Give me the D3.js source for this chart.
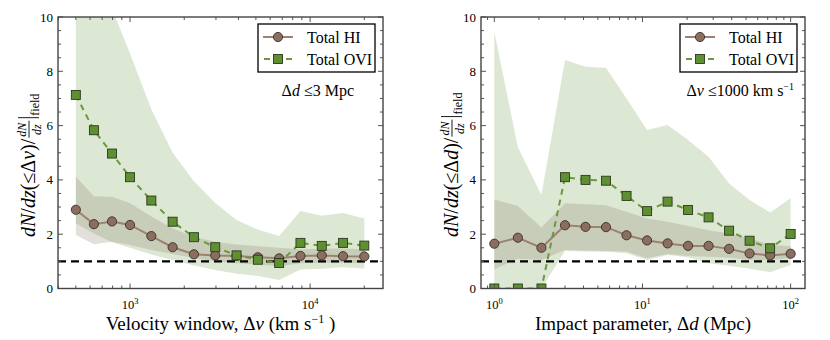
<!DOCTYPE html>
<html>
<head>
<meta charset="utf-8">
<script src="https://cdn.jsdelivr.net/npm/d3@7"></script>
<style>
  body { margin: 0; background: #fff; }
  svg { display: block; }
</style>
</head>
<body>
<svg id="chart" width="830" height="340" font-family="'Liberation Serif', 'Times New Roman', 'DejaVu Serif', serif"></svg>
<script>
// ---------- data ----------
var velX = [500, 630, 794, 1000, 1313, 1724, 2264, 2973, 3904, 5126, 6731, 8839, 11606, 15240, 20000];
var velHI = [2.9, 2.37, 2.47, 2.34, 1.93, 1.52, 1.26, 1.22, 1.2, 1.15, 1.11, 1.2, 1.22, 1.19, 1.18];
var velHIlo = [1.97, 1.63, 1.72, 1.6, 1.42, 1.27, 1.12, 1.0, 0.93, 0.88, 0.82, 0.93, 0.95, 0.95, 0.93];
var velHIhi = [4.12, 3.4, 3.38, 3.14, 2.65, 2.22, 1.9, 1.72, 1.62, 1.56, 1.5, 1.45, 1.46, 1.47, 1.45];
var velOVI = [7.13, 5.83, 4.97, 4.1, 3.24, 2.46, 1.89, 1.52, 1.22, 1.06, 0.94, 1.68, 1.57, 1.68, 1.58];
var velOVIlo = [2.4, 2.03, 1.7, 1.5, 1.25, 1.05, 0.85, 0.68, 0.54, 0.46, 0.31, 0.7, 0.73, 0.78, 0.74];
var velOVIhi = [16, 12.5, 10.3, 8.66, 6.6, 5.0, 3.95, 3.15, 2.52, 2.17, 1.93, 2.85, 2.68, 2.78, 2.58];

var impX = [1, 1.442, 2.08, 3, 4.126, 5.675, 7.806, 10.74, 14.77, 20.31, 27.93, 38.42, 52.84, 72.68, 100];
var impHI = [1.65, 1.87, 1.5, 2.33, 2.27, 2.26, 1.96, 1.77, 1.66, 1.57, 1.57, 1.46, 1.29, 1.22, 1.28];
var impHIlo = [0.71, 1.1, 1.05, 1.42, 1.4, 1.38, 1.36, 1.11, 1.27, 1.2, 1.17, 1.13, 1.05, 1.05, 1.11];
var impHIhi = [3.28, 3.04, 2.25, 3.14, 3.1, 3.07, 2.83, 2.58, 2.46, 2.3, 2.15, 2.03, 1.85, 1.6, 1.57];
var impOVI = [0, 0, 0, 4.1, 4.0, 3.97, 3.41, 2.85, 3.2, 2.89, 2.62, 2.13, 1.76, 1.48, 2.01];
var impOVIlo = [0, 0, 0, 1.38, 1.36, 1.35, 1.3, 1.05, 1.23, 1.15, 0.93, 0.84, 0.73, 0.6, 0.87];
var impOVIhi = [9.46, 5.2, 3.44, 8.42, 8.17, 8.13, 7.0, 5.84, 6.02, 5.47, 4.85, 3.87, 3.26, 2.8, 3.32];

var yTicks = [0, 2, 4, 6, 8, 10];
var seriesNames = ['Total HI', 'Total OVI'];

var HI_LINE = '#9c8272', HI_FILL = '#8a6e5f', HI_BAND = '#7f6e5c';
var OVI_LINE = '#6b9a3a', OVI_FILL = '#5e8f30', OVI_BAND = '#64963a';

var svg = d3.select('#chart');

function panel(opt) {
  var x = d3.scaleLog().domain(opt.xdom).range([opt.left, opt.right]);
  var y = d3.scaleLinear().domain([0, 10]).range([288.5, 17]);
  var g = svg.append('g');
  var clipId = 'clip' + opt.id;
  svg.append('clipPath').attr('id', clipId).append('rect')
    .attr('x', opt.left).attr('y', 17).attr('width', opt.right - opt.left).attr('height', 271.5);
  var plot = g.append('g').attr('clip-path', 'url(#' + clipId + ')');

  function band(lo, hi, col) {
    var a = d3.area().x(function (d, i) { return x(opt.xs[i]); }).y0(function (d, i) { return y(lo[i]); }).y1(function (d, i) { return y(hi[i]); });
    plot.append('path').attr('d', a(opt.xs)).attr('fill', col).attr('fill-opacity', 0.22).attr('stroke', 'none');
  }
  band(opt.oviLo, opt.oviHi, OVI_BAND);
  band(opt.hiLo, opt.hiHi, HI_BAND);

  plot.append('line').attr('x1', opt.left).attr('x2', opt.right).attr('y1', y(1)).attr('y2', y(1))
    .attr('stroke', '#000').attr('stroke-width', 2.4).attr('stroke-dasharray', '8,5');

  var line = d3.line().x(function (d, i) { return x(opt.xs[i]); }).y(function (d) { return y(d); });
  plot.append('path').attr('d', line(opt.hi)).attr('fill', 'none').attr('stroke', HI_LINE).attr('stroke-width', 2);
  plot.selectAll('circle.hi').data(opt.hi).join('circle').attr('class', 'hi')
    .attr('cx', function (d, i) { return x(opt.xs[i]); }).attr('cy', function (d) { return y(d); }).attr('r', 4.6)
    .attr('fill', HI_FILL).attr('stroke', '#3a2e28').attr('stroke-width', 0.9);
  plot.append('path').attr('d', line(opt.ovi)).attr('fill', 'none').attr('stroke', OVI_LINE).attr('stroke-width', 2).attr('stroke-dasharray', '6,5');
  plot.selectAll('rect.ovi').data(opt.ovi).join('rect').attr('class', 'ovi')
    .attr('x', function (d, i) { return x(opt.xs[i]) - 4.5; }).attr('y', function (d) { return y(d) - 4.5; })
    .attr('width', 9).attr('height', 9)
    .attr('fill', OVI_FILL).attr('stroke', '#2a3a1e').attr('stroke-width', 0.9);

  // frame and ticks (inward, mirrored)
  var ax = g.append('g').attr('stroke', '#555').attr('stroke-width', 1);
  var lo = Math.ceil(Math.log10(opt.xdom[0])), hiE = Math.floor(Math.log10(opt.xdom[1]));
  var xt = [];
  for (var e = lo - 1; e <= hiE; e++) for (var m = 1; m < 10; m++) {
    var v = m * Math.pow(10, e);
    if (v >= opt.xdom[0] && v <= opt.xdom[1]) xt.push({ v: v, major: m === 1 });
  }
  xt.forEach(function (t) {
    var px = x(t.v), L = t.major ? 5 : 3;
    ax.append('line').attr('x1', px).attr('x2', px).attr('y1', 288.5).attr('y2', 288.5 - L);
    ax.append('line').attr('x1', px).attr('x2', px).attr('y1', 17).attr('y2', 17 + L);
  });
  d3.range(0, 10.01, 0.5).forEach(function (v) {
    var py = y(v), L = (v % 2 === 0) ? 5 : 3;
    ax.append('line').attr('x1', opt.left).attr('x2', opt.left + L).attr('y1', py).attr('y2', py);
    ax.append('line').attr('x1', opt.right).attr('x2', opt.right - L).attr('y1', py).attr('y2', py);
  });
  g.append('rect').attr('x', opt.left).attr('y', 17).attr('width', opt.right - opt.left).attr('height', 271.5)
    .attr('fill', 'none').attr('stroke', '#444').attr('stroke-width', 1.4);

  yTicks.forEach(function (v) {
    g.append('text').attr('x', opt.left - 5).attr('y', y(v)).attr('dy', '0.35em').attr('text-anchor', 'end')
      .attr('font-size', 13).text(v);
  });
  xt.filter(function (t) { return t.major; }).forEach(function (t) {
    var tx = g.append('text').attr('x', x(t.v)).attr('y', 309).attr('text-anchor', 'middle').attr('font-size', 12.5);
    tx.append('tspan').text('10');
    tx.append('tspan').attr('dy', -5).attr('font-size', 8.5).text(Math.round(Math.log10(t.v)));
  });

  // x label
  var xl = g.append('text').attr('x', (opt.left + opt.right) / 2 + opt.xlShift).attr('y', 330).attr('text-anchor', 'middle').attr('font-size', 19);
  opt.xlabel(xl);

  // y label
  var yl = g.append('g').attr('transform', 'translate(' + (opt.left - 23) + ',237) rotate(-90)');
  var main = yl.append('text').attr('x', 0).attr('y', 0).attr('font-size', 20);
  main.append('tspan').attr('font-style', 'italic').text('dN');
  main.append('tspan').text('/');
  main.append('tspan').attr('font-style', 'italic').text('dz');
  main.append('tspan').text('(\u2264\u0394');
  main.append('tspan').attr('font-style', 'italic').text(opt.yvar);
  main.append('tspan').text(')/');
  var w = main.node().getComputedTextLength();
  var fx = w + 1;
  yl.append('text').attr('x', fx + 8).attr('y', -9).attr('text-anchor', 'middle').attr('font-size', 12).attr('font-style', 'italic').text('dN');
  yl.append('text').attr('x', fx + 8).attr('y', 6).attr('text-anchor', 'middle').attr('font-size', 12).attr('font-style', 'italic').text('dz');
  yl.append('line').attr('x1', fx).attr('x2', fx + 17).attr('y1', -6).attr('y2', -6).attr('stroke', '#000').attr('stroke-width', 0.9);
  yl.append('line').attr('x1', fx + 20).attr('x2', fx + 20).attr('y1', -17).attr('y2', 4).attr('stroke', '#000').attr('stroke-width', 0.9);
  yl.append('text').attr('x', fx + 22).attr('y', 4).attr('font-size', 12).text('field');

  // legend
  var lg = g.append('g').attr('transform', 'translate(' + (opt.right - 125) + ',24)');
  lg.append('rect').attr('x', 0).attr('y', 0).attr('width', 117).attr('height', 48).attr('fill', '#fff').attr('stroke', '#000').attr('stroke-width', 1.3);
  lg.append('line').attr('x1', 5).attr('x2', 35).attr('y1', 13).attr('y2', 13).attr('stroke', HI_LINE).attr('stroke-width', 2);
  lg.append('circle').attr('cx', 20).attr('cy', 13).attr('r', 4.6).attr('fill', HI_FILL).attr('stroke', '#3a2e28').attr('stroke-width', 0.9);
  lg.append('line').attr('x1', 5).attr('x2', 35).attr('y1', 35).attr('y2', 35).attr('stroke', OVI_LINE).attr('stroke-width', 2).attr('stroke-dasharray', '6,5').attr('stroke-dashoffset', -1);
  lg.append('rect').attr('x', 15.5).attr('y', 30.5).attr('width', 9).attr('height', 9).attr('fill', OVI_FILL).attr('stroke', '#2a3a1e').attr('stroke-width', 0.9);
  seriesNames.forEach(function (s, i) {
    lg.append('text').attr('x', 49).attr('y', 13 + i * 22).attr('dy', '0.35em').attr('font-size', 16).text(s);
  });

  // annotation
  var an = g.append('text').attr('y', 96).attr('text-anchor', 'end').attr('font-size', 16);
  opt.note(an);
}

panel({
  id: 'L', left: 58, right: 383, xdom: [398, 25400], xs: velX,
  hi: velHI, hiLo: velHIlo, hiHi: velHIhi, ovi: velOVI, oviLo: velOVIlo, oviHi: velOVIhi,
  yvar: 'v', xlShift: 0,
  xlabel: function (t) {
    t.append('tspan').text('Velocity window, \u0394');
    t.append('tspan').attr('font-style', 'italic').text('v');
    t.append('tspan').text(' (km s');
    t.append('tspan').attr('dy', -7).attr('font-size', 12).text('\u22121');
    t.append('tspan').attr('dy', 7).text(' )');
  },
  note: function (t) {
    t.attr('x', 354);
    t.append('tspan').text('\u0394');
    t.append('tspan').attr('font-style', 'italic').text('d');
    t.append('tspan').text(' \u22643 Mpc');
  }
});

panel({
  id: 'R', left: 481, right: 805, xdom: [0.813, 125], xs: impX,
  hi: impHI, hiLo: impHIlo, hiHi: impHIhi, ovi: impOVI, oviLo: impOVIlo, oviHi: impOVIhi,
  yvar: 'd', xlShift: 0,
  xlabel: function (t) {
    t.append('tspan').text('Impact parameter, \u0394');
    t.append('tspan').attr('font-style', 'italic').text('d');
    t.append('tspan').text(' (Mpc)');
  },
  note: function (t) {
    t.attr('x', 794);
    t.append('tspan').text('\u0394');
    t.append('tspan').attr('font-style', 'italic').text('v');
    t.append('tspan').text(' \u22641000 km s');
    t.append('tspan').attr('dy', -6).attr('font-size', 10).text('\u22121');
  }
});
</script>
</body>
</html>
